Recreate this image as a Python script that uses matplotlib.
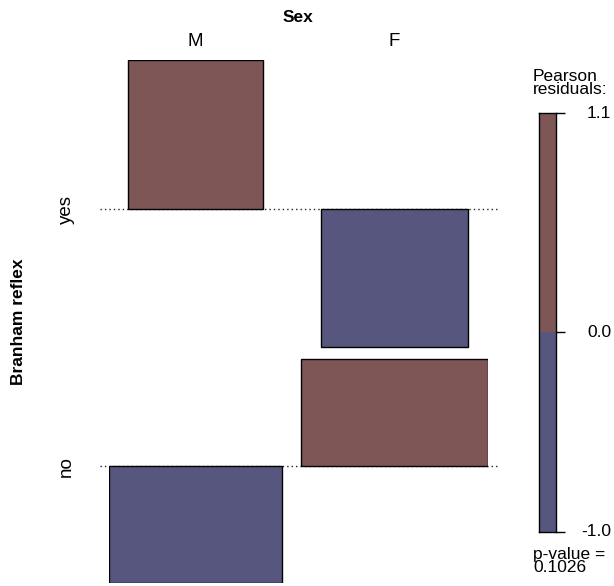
import numpy as np
import matplotlib
matplotlib.use("Agg")
import matplotlib.pyplot as plt
from matplotlib.transforms import blended_transform_factory

plt.rcParams["font.family"] = ["Liberation Sans", "DejaVu Sans"]

# 2x2 table: rows = Branham reflex, cols = Sex
rows = ["yes", "no"]
cols = ["M", "F"]
counts = np.array([[12, 7],
                   [11, 20]])
pvalue_text = "0.1026"
legend_ticks = [1.1, 0.0, -1.0]

pos_col = "#7e5656"
neg_col = "#56567f"

n = counts.sum()
expected = np.outer(counts.sum(axis=1), counts.sum(axis=0)) / n
resid = (counts - expected) / np.sqrt(expected)
widths = np.sqrt(expected)

W, H = 614, 586
fig = plt.figure(figsize=(W / 100, H / 100), dpi=100)


def fx(px):
    return px / W


def fy(py):
    return 1 - py / H


# column layout (x in sqrt(expected) units)
col_w = widths.max(axis=0)
xgap = 0.41
col_left = np.concatenate([[0], np.cumsum(col_w + xgap)[:-1]])
col_ctr = col_left + col_w / 2
xtot = col_w.sum() + xgap

# row layout (y in residual units), baselines stacked downward
ygap = 0.09
row_top = np.maximum(resid.max(axis=1), 0)
row_bot = np.minimum(resid.min(axis=1), 0)
base = np.zeros(len(rows))
for i in range(1, len(rows)):
    base[i] = base[i - 1] + row_bot[i - 1] - ygap - row_top[i]
ytop = row_top[0]
ybot = base[-1] + row_bot[-1]

ax = fig.add_axes([fx(109), fy(583), fx(488 - 109), fy(60) - fy(583)])
ax.set_xlim(0, xtot)
ax.set_ylim(ybot, ytop)
ax.axis("off")

for i in range(len(rows)):
    for j in range(len(cols)):
        r = resid[i, j]
        ax.bar(col_ctr[j], r, width=widths[i, j], bottom=base[i],
               color=pos_col if r > 0 else neg_col,
               edgecolor="black", linewidth=1.0, zorder=2)
    ext = 9 / 46
    ax.hlines(base[i], -ext, xtot + ext, colors="#222222",
              linestyles=(0, (1, 2.2)), linewidth=1.0, clip_on=False, zorder=1)

# labels
fig.text(fx(298), fy(18), "Sex", ha="center", va="center",
         fontsize=12.5, fontweight="bold")
top_tr = blended_transform_factory(ax.transData, fig.transFigure)
for j, c in enumerate(cols):
    ax.text(col_ctr[j], fy(41), c, transform=top_tr, ha="center",
            va="center", fontsize=13.5)
left_tr = blended_transform_factory(fig.transFigure, ax.transData)
for i, r in enumerate(rows):
    ax.text(fx(66), base[i], r, transform=left_tr, rotation=90,
            ha="center", va="center", fontsize=13.5)
fig.text(fx(19), fy(322), "Branham reflex", rotation=90, ha="center",
         va="center", fontsize=12.5, fontweight="bold")

# shading legend
lax = fig.add_axes([fx(539), fy(532), fx(556 - 539), fy(113) - fy(532)])
lo, hi = min(legend_ticks), max(legend_ticks)
lax.set_xlim(0, 1)
lax.set_ylim(lo, hi)
lax.axhspan(0, hi, color=pos_col, lw=0)
lax.axhspan(lo, 0, color=neg_col, lw=0)
for s in lax.spines.values():
    s.set_linewidth(1.0)
lax.set_xticks([])
lax.yaxis.tick_right()
lax.set_yticks(legend_ticks)
lax.set_yticklabels([])
lax.tick_params(axis="y", length=6.5, width=1.0, direction="out")
for v in legend_ticks:
    lax.text(fx(611), v, f"{v:.1f}", transform=blended_transform_factory(
        fig.transFigure, lax.transData), ha="right", va="center", fontsize=12.5)

fig.text(fx(533), fy(83), "Pearson\nresiduals:", ha="left", va="center",
         fontsize=12.5, linespacing=0.82)
fig.text(fx(533), fy(561), "p-value =\n" + pvalue_text, ha="left",
         va="center", fontsize=12.5, linespacing=0.85)

fig.savefig("out.png", dpi=100)
